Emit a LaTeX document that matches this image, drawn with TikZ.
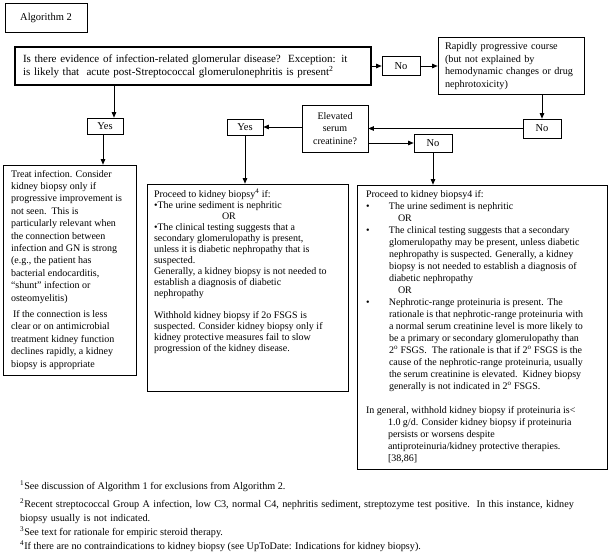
\documentclass[tikz,border=0pt]{standalone}
\usepackage{fontspec}
\setmainfont{Liberation Serif}
\usetikzlibrary{arrows.meta}
\newcommand\bul[1]{\par{\leftskip=23pt\noindent\llap{\makebox[23pt][l]{•}}#1\par}}
\begin{document}
\begin{tikzpicture}[x=1pt,y=-1pt,
  lbl/.style={draw=black, line width=0.7pt, inner sep=0pt, align=center,
              font=\fontsize{10.5}{12.5}\selectfont},
  txtbox/.style={draw=black, line width=0.7pt, inner xsep=#1, inner ysep=5pt},
  arr/.style={-{Triangle[length=5.5pt,width=4.5pt]}, line width=0.7pt},
  foot/.style={inner sep=0pt, anchor=base west, align=left, font=\fontsize{10.2}{14}\selectfont}]
\useasboundingbox (0,0) rectangle (609,555);

% top row
\node[lbl, minimum width=82pt, minimum height=29pt] (alg) at (46,17.5) {Algorithm 2};
\node[lbl, line width=2.6pt, minimum width=356pt, minimum height=38pt, align=left, text width=340pt,
      font=\fontsize{11}{13}\selectfont] (main) at (193,66)
  {Is there evidence of infection-related glomerular disease?\ \ Exception: it\\
   is likely that\ \ acute post-Streptococcal glomerulonephritis is present\textsuperscript{2}};
\node[lbl, minimum width=38pt, minimum height=19pt] (no1) at (401,66) {No};
\node[lbl, minimum width=146pt, minimum height=57pt, align=left, text width=132pt,
      font=\fontsize{10.2}{12.5}\selectfont] (rapid) at (511,66)
  {Rapidly progressive course\\(but not explained by\\hemodynamic changes or drug\\nephrotoxicity)};
\node[lbl, minimum width=38pt, minimum height=19pt] (no2) at (542,128.5) {No};
\node[lbl, minimum width=66pt, minimum height=47pt, font=\fontsize{10}{12.5}\selectfont] (elev) at (335,128.5)
  {Elevated\\serum\\creatinine?};
\node[lbl, minimum width=38pt, minimum height=18pt] (no3) at (433,143) {No};
\node[lbl, minimum width=36pt, minimum height=16pt] (yes1) at (105,126) {Yes};
\node[lbl, minimum width=36pt, minimum height=16pt] (yes2) at (245,127) {Yes};

% text boxes
\node[txtbox=8pt, font=\fontsize{10}{12.4}\selectfont] (treat) at (69.5,270) {\parbox[c][200pt][t]{117pt}{\raggedright
Treat infection. Consider\\
kidney biopsy only if\\
progressive improvement is\\
not seen.\ \ This is\\
particularly relevant when\\
the connection between\\
infection and GN is strong\\
(e.g., the patient has\\
bacterial endocarditis,\\
“shunt” infection or\\
osteomyelitis)\par\vspace{4pt}
\hspace{2pt}If the connection is less\\
clear or on antimicrobial\\
treatment kidney function\\
declines rapidly, a kidney\\
biopsy is appropriate}};

\node[txtbox=7pt, font=\fontsize{10}{11}\selectfont] (mid) at (247.5,287.5) {\parbox[c][197pt][t]{187pt}{\raggedright
Proceed to kidney biopsy\textsuperscript{4} if:\\
•The urine sediment is nephritic\\
\hspace{68pt}OR\\
•The clinical testing suggests that a\\
secondary glomerulopathy is present,\\
unless it is diabetic nephropathy that is\\
suspected.\\
Generally, a kidney biopsy is not needed to\\
establish a diagnosis of diabetic\\
nephropathy\\[11pt]
Withhold kidney biopsy if 2o FSGS is\\
suspected. Consider kidney biopsy only if\\
kidney protective measures fail to slow\\
progression of the kidney disease.}};

\node[txtbox=9pt, font=\fontsize{10}{12}\selectfont] (right) at (482,327) {\parbox[c][274pt][t]{232pt}{\raggedright
Proceed to kidney biopsy4 if:
\bul{The urine sediment is nephritic}
\hspace*{32pt}OR
\bul{The clinical testing suggests that a secondary\\
glomerulopathy may be present, unless diabetic\\
nephropathy is suspected. Generally, a kidney\\
biopsy is not needed to establish a diagnosis of\\
diabetic nephropathy}
\hspace*{32pt}OR
\bul{Nephrotic-range proteinuria is present. The\\
rationale is that nephrotic-range proteinuria with\\
a normal serum creatinine level is more likely to\\
be a primary or secondary glomerulopathy than\\
2\textsuperscript{o} FSGS.\ \ The rationale is that if 2\textsuperscript{o} FSGS is the\\
cause of the nephrotic-range proteinuria, usually\\
the serum creatinine is elevated.\ \ Kidney biopsy\\
generally is not indicated in 2\textsuperscript{o} FSGS.}
\vspace{12pt}
{\leftskip=22pt\noindent\hspace*{-22pt}In general, withhold kidney biopsy if proteinuria is<\\
1.0 g/d. Consider kidney biopsy if proteinuria\\
persists or worsens despite\\
antiproteinuria/kidney protective therapies.\\
{[38,86]}\par}}};

% connectors
\coordinate (xa) at (114,0);
\coordinate (xb) at (103,0);
\draw[arr] (main.east) -- (no1.west);
\draw[arr] (no1.east) -- (rapid.west);
\draw[arr] (rapid.south -| no2.north) -- (no2.north);
\draw[arr] (no2.west) -- (elev.east);
\draw[arr] (elev.east |- no3.west) -- (no3.west);
\draw[arr] (no3.south) -- (no3.south |- right.north);
\draw[arr] (elev.west |- yes2.east) -- (yes2.east);
\draw[arr] (yes2.south) -- (yes2.south |- mid.north);
\draw[arr] (main.south -| xa) -- (yes1.north -| xa);
\draw[arr] (yes1.south -| xb) -- (treat.north -| xb);

% footnotes
\node[foot] (f1) at (20,489) {\textsuperscript{1}See discussion of Algorithm 1 for exclusions from Algorithm 2.};
\node[foot, text width=580pt] (f2) at (20,507) {\textsuperscript{2}Recent streptococcal Group A infection, low C3, normal C4, nephritis sediment, streptozyme test positive.\ \ In this instance, kidney\\biopsy usually is not indicated.};
\node[foot] (f3) at (20,535) {\textsuperscript{3}See text for rationale for empiric steroid therapy.};
\node[foot] (f4) at (20,549) {\textsuperscript{4}If there are no contraindications to kidney biopsy (see UpToDate: Indications for kidney biopsy).};
\end{tikzpicture}
\end{document}
